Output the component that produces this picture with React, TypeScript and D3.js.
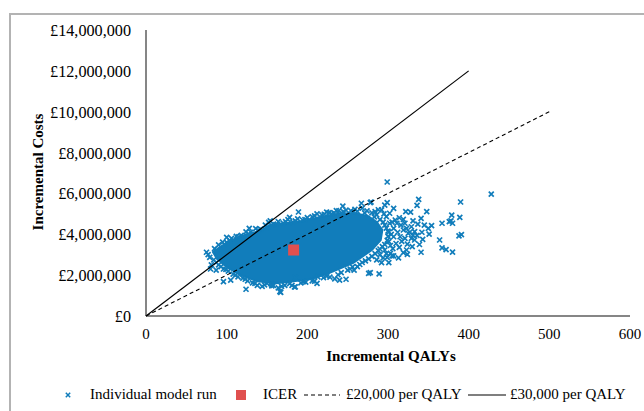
import React from 'react';
import * as d3 from 'd3';

// Values: [incremental QALYs, incremental costs in £m]
const xTicks = [0, 100, 200, 300, 400, 500, 600];
const yTicks = [0, 2, 4, 6, 8, 10, 12, 14];

// Outline of the part of the cloud where the runs overlap into a solid mass
const denseCloud: [number, number][] = [
  [83, 3.13], [94, 3.43], [110, 3.77], [125, 4.01], [141, 4.16], [154, 4.45], [175, 4.55],
  [195, 4.65], [216, 4.85], [237, 4.99], [257, 5.04], [275, 4.9], [286, 4.6], [293, 4.21],
  [291, 3.72], [280, 3.23], [257, 2.6], [224, 2.05], [203, 1.8], [162, 1.6], [138, 1.7],
  [117, 2.0], [100, 2.4], [88, 2.8],
];

const cloudTopEdge: [number, number][] = [
  [85, 3.3], [90, 3.48], [95, 3.62], [100, 3.6], [106, 3.8], [112, 3.9], [118, 3.95], [124, 4.12],
  [130, 4.1], [136, 4.28], [142, 4.25], [148, 4.45], [152, 4.58], [158, 4.5], [164, 4.62], [170, 4.55],
  [176, 4.72], [182, 4.6], [188, 4.75], [194, 4.7], [200, 4.82], [206, 4.85], [212, 5.0], [218, 4.95],
  [224, 5.08], [230, 5.0], [236, 5.16], [242, 5.05], [248, 5.18], [254, 5.15], [262, 5.12], [268, 5.28],
  [274, 5.15], [280, 5.05], [286, 4.95],
  [88, 3.2], [97, 3.5], [104, 3.68], [115, 3.88], [127, 4.02], [139, 4.2], [150, 4.35], [161, 4.48],
  [173, 4.62], [185, 4.66], [197, 4.72], [209, 4.9], [221, 4.98], [233, 5.05], [245, 5.1], [257, 5.08],
  [271, 5.05], [283, 4.85],
];

const cloudBottomEdge: [number, number][] = [
  [84, 2.75], [90, 2.5], [96, 2.3], [102, 2.2], [108, 2.05], [114, 1.92], [120, 1.85], [126, 1.72],
  [132, 1.62], [138, 1.5], [144, 1.45], [150, 1.6], [158, 1.5], [164, 1.38], [172, 1.5], [178, 1.58],
  [184, 1.42], [192, 1.62], [198, 1.66], [206, 1.72], [212, 1.6], [220, 1.88], [228, 1.9], [234, 1.82],
  [242, 2.12], [250, 2.25], [256, 2.4], [262, 2.42], [268, 2.62], [276, 2.8], [284, 3.05], [290, 3.28],
  [296, 3.5], [300, 3.9], [298, 4.3], [294, 4.6],
  [87, 2.62], [93, 2.42], [99, 2.28], [111, 2.0], [123, 1.8], [135, 1.6], [147, 1.52], [155, 1.58],
  [168, 1.45], [181, 1.5], [195, 1.68], [209, 1.7], [224, 1.95], [238, 2.02], [253, 2.3], [265, 2.52],
  [272, 2.7], [280, 2.92], [288, 3.2], [293, 3.4], [299, 3.7], [301, 4.1], [296, 4.45], [290, 4.72],
];

const scatteredRuns: [number, number][] = [
  [299, 6.56], [428, 5.97], [390, 5.58], [338, 5.71], [336, 5.42], [299, 5.55], [279, 5.58], [322, 5.11],
  [328, 5.08], [348, 5.11], [307, 5.27], [302, 5.03], [379, 4.94], [389, 4.83], [341, 4.78], [331, 4.66],
  [314, 4.81], [319, 4.73], [367, 4.54], [376, 4.62], [380, 4.54], [378, 4.66], [354, 4.42], [345, 4.45],
  [350, 4.29], [351, 4.01], [342, 4.1], [343, 3.75], [388, 3.92], [391, 3.98], [364, 3.72], [367, 3.33],
  [372, 3.25], [380, 3.13], [341, 3.12], [324, 3.02], [323, 3.23], [307, 2.94], [301, 2.61], [292, 2.61],
  [299, 2.87], [289, 2.06], [278, 2.12], [323, 4.29], [329, 4.37], [333, 4.13], [319, 4.21], [315, 3.88],
  [321, 3.8], [329, 3.8], [333, 3.72], [324, 3.52], [314, 3.36], [307, 3.88], [301, 3.64], [296, 3.23],
  [303, 3.07], [290, 2.99], [311, 4.54], [302, 4.54], [307, 4.29], [298, 4.86], [292, 5.19], [296, 5.43],
  [284, 5.11], [325, 4.05], [331, 3.96], [321, 4.54], [100, 3.85], [128, 4.29], [75, 3.12], [77, 3.0],
  [79, 2.87], [81, 2.5], [87, 2.25], [80, 2.3], [96, 1.68], [105, 1.76], [124, 1.31], [154, 4.66],
  [156, 1.52], [166, 1.19], [178, 4.83], [189, 5.09], [244, 5.38], [239, 5.15], [267, 5.52], [278, 5.55],
  [259, 5.22], [227, 5.06], [276, 2.09], [185, 1.89], [240, 1.76], [248, 1.8], [167, 1.16], [185, 1.43],
  [156, 1.47], [213, 1.92], [258, 2.25], [305, 2.94],
  [304, 4.0], [310, 3.55], [306, 3.3], [312, 4.1], [317, 3.65], [309, 4.7], [316, 4.45], [303, 3.45],
  [298, 3.05], [294, 2.85], [286, 2.75], [300, 4.15], [305, 4.6], [295, 5.0], [288, 5.2], [337, 4.5],
  [327, 4.1], [336, 3.95], [339, 3.5], [330, 3.4], [319, 3.1], [313, 2.85],
];

const icer: [number, number] = [183, 3.23];
const threshold20k: [number, number][] = [[0, 0], [500, 10]];
const threshold30k: [number, number][] = [[0, 0], [400, 12]];

const BLUE = '#117dbb';
const RED = '#e0504f';
const AXIS = '#868686';
const FONT = '"Liberation Serif", "Times New Roman", serif';

const x = d3.scaleLinear().domain([0, 600]).range([146, 630]);
const y = d3.scaleLinear().domain([0, 14]).range([316, 30]);
const line = d3.line<[number, number]>().x(d => x(d[0])).y(d => y(d[1]));
const money = (m: number) => '£' + d3.format(',')(m * 1000000);

const Cross = ({ cx, cy, r = 2.5, w = 1.7 }: { cx: number; cy: number; r?: number; w?: number }) => (
  <path
    d={`M${cx - r},${cy - r}L${cx + r},${cy + r}M${cx - r},${cy + r}L${cx + r},${cy - r}`}
    stroke={BLUE}
    strokeWidth={w}
    fill="none"
  />
);

export default function App() {
  const runs = [...cloudTopEdge, ...cloudBottomEdge, ...scatteredRuns];
  return (
    <svg width={644} height={411} style={{ position: 'absolute', left: 0, top: 0, background: '#fff' }} fontFamily={FONT} fill="#000">
      {/* chart frame, cut off by the image on the right and bottom */}
      <path d="M10,411V14H644" fill="none" stroke="#b3b3b3" strokeWidth={2} />

      <path d={`${line(denseCloud)}Z`} fill={BLUE} stroke={BLUE} strokeWidth={2} />
      {runs.map((d, i) => <Cross key={i} cx={x(d[0])} cy={y(d[1])} />)}

      <line x1={x(0)} y1={y(0)} x2={x(600)} y2={y(0)} stroke={AXIS} strokeWidth={2} />
      <line x1={x(0)} y1={y(0)} x2={x(0)} y2={y(14)} stroke={AXIS} strokeWidth={2} />

      <rect x={x(icer[0]) - 5.5} y={y(icer[1]) - 5.5} width={11} height={11} fill={RED} />
      <path d={line(threshold20k) ?? ''} fill="none" stroke="#000" strokeWidth={1.1} strokeDasharray="4 3" />
      <path d={line(threshold30k) ?? ''} fill="none" stroke="#000" strokeWidth={1.2} />

      {yTicks.map(t => (
        <text key={t} x={131} y={y(t) + 6} textAnchor="end" fontSize={16.2}>{money(t)}</text>
      ))}
      {xTicks.map(t => (
        <text key={t} x={x(t)} y={339} textAnchor="middle" fontSize={15}>{t}</text>
      ))}

      <text x={391} y={361} textAnchor="middle" fontSize={15} fontWeight="bold">Incremental QALYs</text>
      <text transform="translate(43,172) rotate(-90)" textAnchor="middle" fontSize={15} fontWeight="bold">Incremental Costs</text>

      <Cross cx={68} cy={395} r={2.2} w={1.5} />
      <text x={90} y={399} fontSize={15}>Individual model run</text>
      <rect x={236} y={390} width={10} height={10} fill={RED} />
      <text x={263} y={399} fontSize={15}>ICER</text>
      <line x1={304} y1={395} x2={340} y2={395} stroke="#000" strokeWidth={1.1} strokeDasharray="4 3" />
      <text x={346} y={399} fontSize={15}>£20,000 per QALY</text>
      <line x1={468} y1={395} x2={506} y2={395} stroke="#000" strokeWidth={1.2} />
      <text x={510} y={399} fontSize={15}>£30,000 per QALY</text>
    </svg>
  );
}
